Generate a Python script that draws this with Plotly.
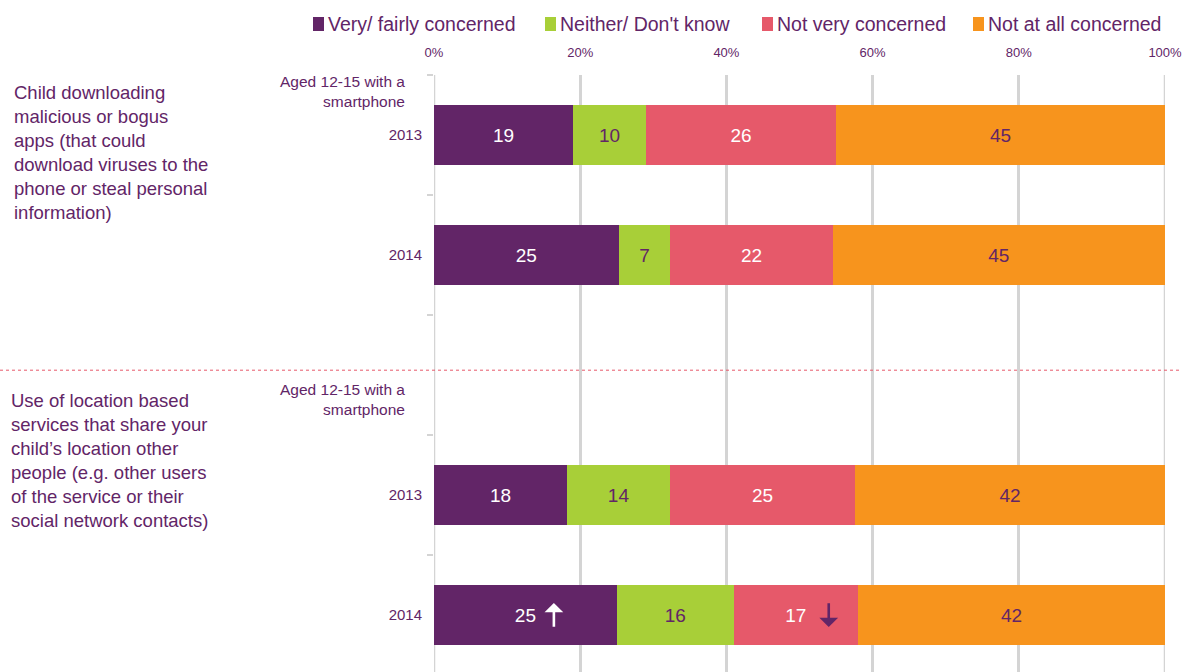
import plotly.graph_objects as go

# ---------------- data ----------------
row_labels = ["2013", "2014", "", "2013", "2014"]
series_names = ["Very/ fairly concerned", "Neither/ Don't know", "Not very concerned", "Not at all concerned"]
very_fairly = [19, 25, None, 18, 25]
neither_dk = [10, 7, None, 14, 16]
not_very = [26, 22, None, 25, 17]
not_at_all = [45, 45, None, 42, 42]
question_texts = [
    "Child downloading<br>malicious or bogus<br>apps (that could<br>download viruses to the<br>phone or steal personal<br>information)",
    "Use of location based<br>services that share your<br>child\u2019s location other<br>people (e.g. other users<br>of the service or their<br>social network contacts)",
]
base_text = "Aged 12-15 with a<br>smartphone"
x_ticks = [0, 20, 40, 60, 80, 100]

# ---------------- styles ----------------
W, H = 1182, 672
ML, MR, MT, MB = 434, 17, 75, 0
PURPLE = "#622567"
GREEN = "#A8CF38"
PINK = "#E6596A"
ORANGE = "#F7941D"
GRID = "#D4D4D4"
FONT = "Liberation Sans, Arial, sans-serif"
colors = [PURPLE, GREEN, PINK, ORANGE]
text_colors = ["white", PURPLE, "white", PURPLE]

pw = W - ML - MR
ph = H - MT - MB


def px2x(px):
    return (px - ML) / pw


def py2y(py):
    return (H - MB - py) / ph


ypos = list(range(len(row_labels)))
all_series = [very_fairly, neither_dk, not_very, not_at_all]

fig = go.Figure()
for name, vals, col, tcol in zip(series_names, all_series, colors, text_colors):
    fig.add_trace(go.Bar(
        y=ypos, x=vals, orientation="h", name=name,
        marker=dict(color=col, line=dict(width=0)),
        text=[("" if v is None else str(v)) for v in vals],
        texttemplate="%{text}",
        textposition="inside", insidetextanchor="middle",
        textfont=dict(color=tcol, size=19, family=FONT),
        textangle=0, constraintext="none",
        showlegend=False, hoverinfo="skip",
    ))

fig.update_layout(
    width=W, height=H,
    margin=dict(l=ML, r=MR, t=MT, b=MB, autoexpand=False),
    barmode="stack", barnorm="percent", bargap=0.5,
    plot_bgcolor="white", paper_bgcolor="white",
    font=dict(family=FONT, color=PURPLE),
    xaxis=dict(
        side="top", range=[0, 100], tickvals=x_ticks,
        ticktext=[f"{t}%" for t in x_ticks],
        showgrid=True, gridcolor=GRID, gridwidth=2.5,
        zeroline=False, showline=False, ticks="",
        tickfont=dict(size=13, color=PURPLE, family=FONT),
        ticklabelstandoff=14, ticklabeloverflow="allow", fixedrange=True,
    ),
    yaxis=dict(
        range=[4.475, -0.5], tickvals=ypos, ticktext=row_labels,
        showgrid=False, zeroline=False, showline=False, ticks="",
        tickfont=dict(size=15, color=PURPLE, family=FONT),
        ticklabelstandoff=11,
        minor=dict(tickvals=[i - 0.5 for i in range(len(row_labels) + 1)],
                   ticks="outside", ticklen=6, tickwidth=2, tickcolor=GRID,
                   showgrid=False),
        fixedrange=True,
    ),
)

# gridlines at the two ends of the x range (plotly clips grid lines at range ends)
for xv in (x_ticks[0], x_ticks[-1]):
    fig.add_shape(type="line", xref="x", yref="paper", x0=xv, x1=xv, y0=0, y1=1,
                  line=dict(color=GRID, width=2.5), layer="below")

# ---------- manual legend ----------
legend_marker_px = [313, 545, 762, 973]
for name, col, mx in zip(series_names, colors, legend_marker_px):
    fig.add_shape(type="rect", xref="paper", yref="paper",
                  x0=px2x(mx), x1=px2x(mx + 11), y0=py2y(31), y1=py2y(17),
                  fillcolor=col, line=dict(width=0), layer="above")
    fig.add_annotation(text=name, xref="paper", yref="paper",
                       x=px2x(mx + 13), y=py2y(24), xanchor="left", yanchor="middle",
                       showarrow=False, font=dict(size=19.5, color=PURPLE, family=FONT))

# ---------- question texts ----------
for txt, (tx, ty) in zip(question_texts, [(12, 80), (9, 388)]):
    fig.add_annotation(text=txt, xref="paper", yref="paper", x=px2x(tx), y=py2y(ty),
                       xanchor="left", yanchor="top", align="left", showarrow=False,
                       font=dict(size=18.5, color=PURPLE, family=FONT))

for by in [91, 399]:
    fig.add_annotation(text=base_text, xref="paper", yref="paper", x=px2x(407), y=py2y(by),
                       xanchor="right", yanchor="middle", align="right", showarrow=False,
                       font=dict(size=15.5, color=PURPLE, family=FONT))

# ---------- divider ----------
fig.add_shape(type="line", xref="paper", yref="y", x0=px2x(0), x1=px2x(W),
              y0=1.96, y1=1.96, line=dict(color=PINK, width=1, dash="dot"), layer="above")

# ---------- significance arrows (row 5) ----------
r = 4
tot = sum(s[r] for s in all_series)
cum_before_pink = very_fairly[r] + neither_dk[r]
up_x = (very_fairly[r] / 2) / tot * 100 + 3.9
down_x = (cum_before_pink + not_very[r] / 2) / tot * 100 + 4.5
fig.add_annotation(x=up_x, y=r - 0.1, ax=up_x, ay=r + 0.11, xref="x", yref="y",
                   axref="x", ayref="y", text="", showarrow=True, arrowhead=1,
                   arrowsize=1.2, arrowwidth=2.6, arrowcolor="white")
fig.add_annotation(x=down_x, y=r + 0.1, ax=down_x, ay=r - 0.11, xref="x", yref="y",
                   axref="x", ayref="y", text="", showarrow=True, arrowhead=1,
                   arrowsize=1.2, arrowwidth=2.6, arrowcolor=PURPLE)

fig.write_html("out.html", config={"displayModeBar": False},
               post_script="document.body.style.margin='0';")
